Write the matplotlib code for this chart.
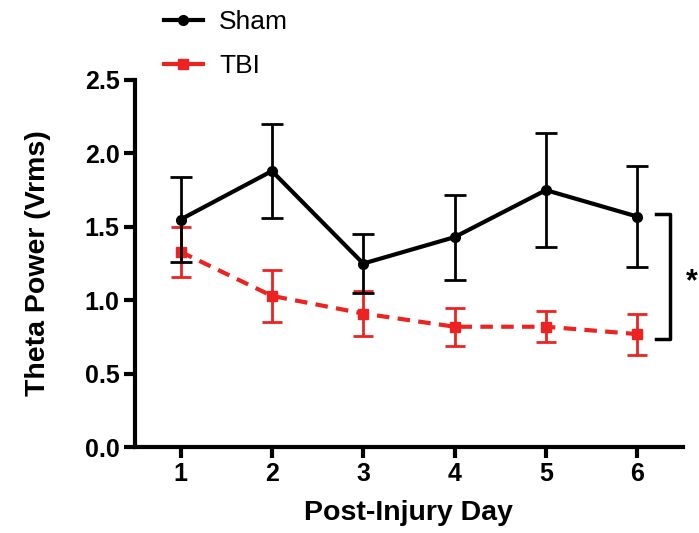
import matplotlib.pyplot as plt
from matplotlib.lines import Line2D
import numpy as np

plt.rcParams['font.family'] = ['Liberation Sans', 'DejaVu Sans']

days = [1, 2, 3, 4, 5, 6]
sham_mean = [1.55, 1.88, 1.25, 1.43, 1.75, 1.57]
sham_err = [0.29, 0.32, 0.20, 0.29, 0.39, 0.345]
tbi_mean = [1.33, 1.03, 0.91, 0.82, 0.82, 0.77]
tbi_err = [0.17, 0.175, 0.15, 0.13, 0.105, 0.14]

red = '#ec2320'

fig = plt.figure(figsize=(6.99, 5.33), dpi=100)
ax = fig.add_axes([0.193, 0.161, 0.784, 0.689])

ax.errorbar(days, sham_mean, yerr=sham_err, color='black', marker='o', markersize=7,
            linewidth=3, elinewidth=2, capsize=8, capthick=2, zorder=3)
ax.errorbar(days, tbi_mean, yerr=tbi_err, color=red, marker='s', markersize=7,
            linewidth=3, linestyle=(0, (3, 2)), elinewidth=2, capsize=7, capthick=2,
            zorder=2)

# significance bracket
ax.plot([6.21, 6.36, 6.36, 6.21], [1.59, 1.59, 0.735, 0.735], color='black',
        linewidth=2.5, clip_on=False)
ax.text(6.6, 1.12, '*', fontsize=22, fontweight='bold', ha='center', va='center',
        clip_on=False)

ax.set_xlim(0.5, 6.5)
ax.set_ylim(0, 2.5)
ax.set_xticks(days)
ax.set_yticks(np.arange(0, 2.51, 0.5))
ax.set_yticklabels(['0.0', '0.5', '1.0', '1.5', '2.0', '2.5'])
for s in ['top', 'right']:
    ax.spines[s].set_visible(False)
for s in ['left', 'bottom']:
    ax.spines[s].set_linewidth(3)
ax.tick_params(width=3, length=8, labelsize=18, pad=3)
for lbl in ax.get_xticklabels() + ax.get_yticklabels():
    lbl.set_fontweight('bold')

ax.set_xlabel('Post-Injury Day', fontsize=20.5, fontweight='bold', labelpad=10)
ax.set_ylabel('Theta Power (Vrms)', fontsize=20.5, fontweight='bold', labelpad=24)

handles = [Line2D([], [], color='black', marker='o', markersize=7, linewidth=3),
           Line2D([], [], color=red, marker='s', markersize=7, linewidth=3)]
fig.legend(handles, ['Sham', 'TBI'], loc='upper left', bbox_to_anchor=(0.20, 1.025),
           frameon=False, fontsize=19, handlelength=1.5, labelspacing=0.75,
           handletextpad=0.6)

fig.savefig('out.png', dpi=100)
